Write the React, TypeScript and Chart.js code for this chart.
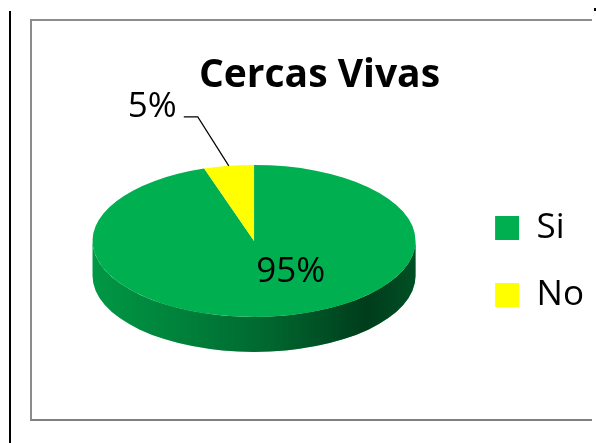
import React, { useEffect, useRef } from 'react';
import { Chart, registerables } from 'chart.js';

Chart.register(...registerables);

const TITLE = 'Cercas Vivas';
const CATEGORIES = ['Si', 'No'];
const VALUES = [95, 5];
const COLORS = ['#00B050', '#FFFF00'];

const FONT = '"Open Sans", "Noto Sans", sans-serif';
const TILT = 76 / 161.5;
const DEPTH = 35;
const INSIDE_FRACTION = 0.42;
const INSIDE_SHIFT_X = 26;

const pie3d = {
  id: 'pie3d',
  beforeDatasetsDraw(chart: any) {
    const meta = chart.getDatasetMeta(0);
    const ctx = chart.ctx;
    ctx.save();
    chart.$pie3dSaved = true;
    if (!meta.data.length) return;
    const { x: cx, y: cy, outerRadius: r } = meta.data[0];
    const ry = r * TILT;
    meta.data.forEach((arc: any) => {
      const s = arc.startAngle;
      const e = arc.endAngle;
      for (let k = -1; k <= 1; k++) {
        const a0 = Math.max(s, 2 * Math.PI * k);
        const a1 = Math.min(e, 2 * Math.PI * k + Math.PI);
        if (a1 <= a0) continue;
        ctx.beginPath();
        ctx.ellipse(cx, cy, r, ry, 0, a0, a1, false);
        ctx.ellipse(cx, cy + DEPTH, r, ry, 0, a1, a0, true);
        ctx.closePath();
        ctx.fillStyle = arc.options.backgroundColor;
        ctx.fill();
        const g = ctx.createLinearGradient(cx - r, 0, cx + r, 0);
        g.addColorStop(0, 'rgba(0,0,0,0.14)');
        g.addColorStop(0.3, 'rgba(0,0,0,0.28)');
        g.addColorStop(0.55, 'rgba(0,0,0,0.42)');
        g.addColorStop(0.85, 'rgba(0,0,0,0.66)');
        g.addColorStop(1, 'rgba(0,0,0,0.55)');
        ctx.fillStyle = g;
        ctx.fill();
      }
    });
    ctx.translate(cx, cy);
    ctx.scale(1, TILT);
    ctx.translate(-cx, -cy);
  },
  afterDatasetsDraw(chart: any) {
    const ctx = chart.ctx;
    if (chart.$pie3dSaved) {
      ctx.restore();
      chart.$pie3dSaved = false;
    }
    const meta = chart.getDatasetMeta(0);
    if (!meta.data.length) return;
    const data: number[] = chart.data.datasets[0].data;
    const total = data.reduce((a, b) => a + b, 0);
    const { x: cx, y: cy, outerRadius: r } = meta.data[0];
    const ry = r * TILT;
    ctx.save();
    ctx.fillStyle = '#000';
    ctx.strokeStyle = '#000';
    ctx.lineWidth = 1.2;
    ctx.font = `35px ${FONT}`;
    meta.data.forEach((arc: any, i: number) => {
      const frac = data[i] / total;
      const text = Math.round(frac * 100) + '%';
      const mid = (arc.startAngle + arc.endAngle) / 2;
      if (frac >= 0.1) {
        const x = cx + INSIDE_FRACTION * r * Math.cos(mid) + INSIDE_SHIFT_X;
        const y = cy + INSIDE_FRACTION * ry * Math.sin(mid);
        ctx.textAlign = 'center';
        ctx.textBaseline = 'middle';
        ctx.fillText(text, x, y);
      } else {
        const px = cx + r * Math.cos(mid);
        const py = cy + ry * Math.sin(mid);
        const ex = px - 31;
        const ey = py - 49;
        const endX = ex - 14;
        ctx.beginPath();
        ctx.moveTo(px, py);
        ctx.lineTo(ex, ey);
        ctx.lineTo(endX, ey);
        ctx.stroke();
        ctx.textAlign = 'right';
        ctx.textBaseline = 'alphabetic';
        ctx.fillText(text, endX - 7, ey);
      }
    });
    ctx.restore();
  },
};

export default function App() {
  const ref = useRef<HTMLCanvasElement | null>(null);
  useEffect(() => {
    if (!ref.current) return;
    const chart = new Chart(ref.current, {
      type: 'pie',
      data: {
        labels: CATEGORIES,
        datasets: [
          {
            data: VALUES,
            backgroundColor: COLORS,
            borderWidth: 0,
            radius: 161.5,
            clip: false,
          } as any,
        ],
      },
      options: {
        animation: false,
        responsive: false,
        devicePixelRatio: 1,
        events: [],
        layout: { padding: { top: 0, left: 45, right: 2, bottom: 61 } },
        plugins: {
          tooltip: { enabled: false },
          title: {
            display: true,
            text: TITLE,
            color: '#000',
            font: { family: FONT, size: 39, weight: 'bold', lineHeight: 1.2 },
            padding: { top: 52, bottom: 1 },
          },
          legend: {
            position: 'right',
            align: 'start',
            title: {
              display: true,
              text: '',
              font: { size: 10, lineHeight: 1 },
              padding: { top: 0, bottom: 168.5 },
            },
            labels: {
              color: '#000',
              font: { family: FONT, size: 35 },
              boxWidth: 24,
              boxHeight: 24,
              padding: 32,
            },
          },
        },
      } as any,
      plugins: [pie3d],
    });
    return () => chart.destroy();
  }, []);

  return (
    <div style={{ position: 'fixed', left: 0, top: 0, width: 596, height: 443, background: '#fff', overflow: 'hidden' }}>
      <div style={{ position: 'absolute', left: 9, top: 11, width: 2, height: 432, background: '#000' }} />
      <div
        style={{
          position: 'absolute',
          left: 30,
          top: 19,
          width: 560,
          height: 398,
          borderTop: '2px solid #8c8c8c',
          borderLeft: '2px solid #8c8c8c',
          borderBottom: '2px solid #808080',
        }}
      />
      <div style={{ position: 'absolute', left: 594, top: 8, width: 2, height: 3, background: '#000' }} />
      <canvas ref={ref} width={596} height={443} style={{ position: 'absolute', left: 0, top: 0, width: 596, height: 443 }} />
    </div>
  );
}
